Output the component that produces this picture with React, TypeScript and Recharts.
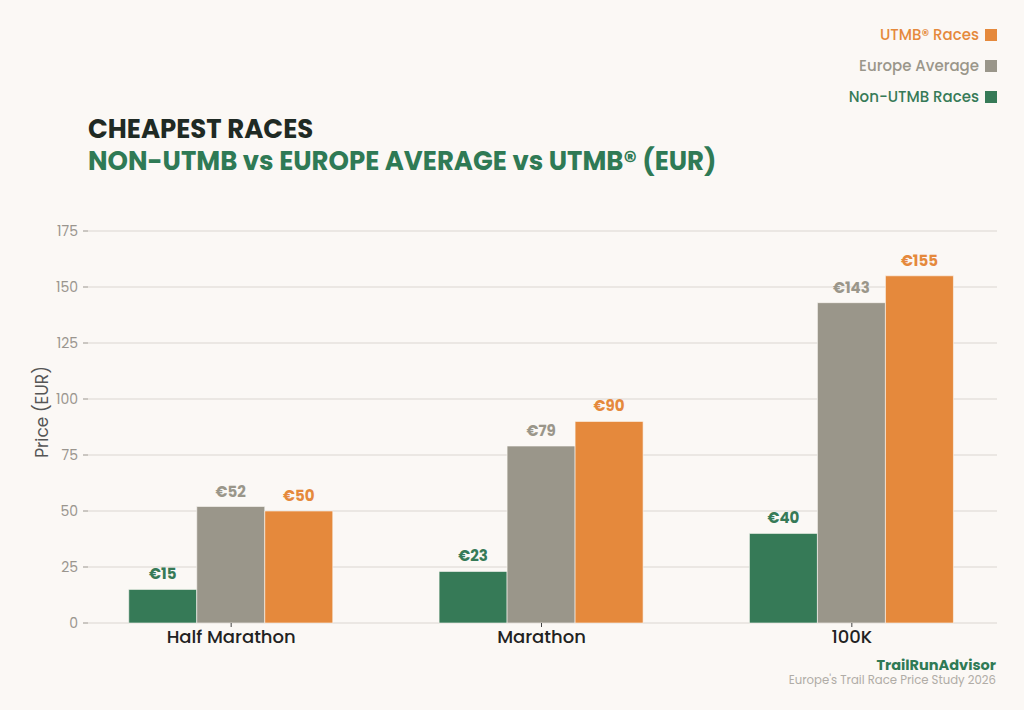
import React from 'react'
import { BarChart, Bar, XAxis, YAxis, CartesianGrid, LabelList } from 'recharts'

const categories = ['Half Marathon', 'Marathon', '100K']
const nonUtmb = [15, 23, 40]
const europeAvg = [52, 79, 143]
const utmb = [50, 90, 155]
const yTicks = [0, 25, 50, 75, 100, 125, 150, 175]

const GREEN = '#367a57'
const GREY = '#9a968a'
const ORANGE = '#e5893c'
const BG = '#fbf8f5'
const FONT = "Poppins, 'Open Sans', sans-serif"

const data = categories.map((name, i) => ({
  name,
  nonUtmb: nonUtmb[i],
  europe: europeAvg[i],
  utmb: utmb[i],
}))

const legendItems = [
  { label: 'UTMB® Races', color: ORANGE },
  { label: 'Europe Average', color: GREY },
  { label: 'Non-UTMB Races', color: GREEN },
]

// y tick: label right-aligned plus a short dash just left of the grid
const YTick = ({ y, payload }: any) => (
  <g>
    <text x={78} y={y} dy={5} textAnchor="end" fontSize={14} fill="#9a958e" fontFamily={FONT}>
      {payload.value}
    </text>
    <line x1={83} x2={88} y1={y} y2={y} stroke="#9a958e" strokeWidth={1} />
  </g>
)

const euro = (v: any) => `€${v}`

export default function App() {
  return (
    <div style={{ position: 'fixed', left: 0, top: 0, width: 1024, height: 710, background: BG, fontFamily: FONT, overflow: 'hidden' }}>
      {/* legend */}
      <div style={{ position: 'absolute', right: 27, top: 19, textAlign: 'right' }}>
        {legendItems.map(it => (
          <div key={it.label} style={{ display: 'flex', justifyContent: 'flex-end', alignItems: 'center', height: 31, fontSize: 15, fontWeight: 500, color: it.color }}>
            <span>{it.label}</span>
            <span style={{ display: 'inline-block', width: 12, height: 12, background: it.color, marginLeft: 6 }} />
          </div>
        ))}
      </div>

      {/* titles */}
      <div style={{ position: 'absolute', left: 88, top: 114, fontSize: 26, fontWeight: 700, color: '#1f2a24', lineHeight: '30px' }}>
        CHEAPEST RACES
      </div>
      <div style={{ position: 'absolute', left: 88, top: 146, fontSize: 26, fontWeight: 700, color: '#2f7a55', lineHeight: '30px' }}>
        NON-UTMB vs EUROPE AVERAGE vs UTMB® (EUR)
      </div>

      {/* y axis title */}
      <div style={{ position: 'absolute', left: 42, top: 412, transform: 'translate(-50%, -50%) rotate(-90deg)', fontSize: 17, color: '#555', whiteSpace: 'nowrap' }}>
        Price (EUR)
      </div>

      <div style={{ position: 'absolute', left: 0, top: 0 }}>
        <BarChart
          width={1024}
          height={710}
          data={data}
          margin={{ top: 231, right: 17, bottom: 0, left: 0 }}
          barCategoryGap="17%"
          barGap={0}
        >
          <CartesianGrid horizontal vertical={false} stroke="#e6e2dd" strokeWidth={1.5} x={88} width={909} />
          <XAxis
            dataKey="name"
            axisLine={false}
            tickLine={{ stroke: '#444' }}
            tickSize={4}
            height={87}
            tick={{ fontSize: 18, fontWeight: 500, fill: '#222', fontFamily: FONT }}
            tickMargin={3}
          />
          <YAxis
            width={76}
            domain={[0, 175]}
            ticks={yTicks}
            axisLine={false}
            tickLine={false}
            tick={<YTick />}
          />
          <Bar dataKey="nonUtmb" fill={GREEN} stroke={BG} strokeWidth={0.6} isAnimationActive={false}>
            <LabelList dataKey="nonUtmb" position="top" offset={10} formatter={euro} fill={GREEN} fontSize={15} fontWeight={700} fontFamily={FONT} />
          </Bar>
          <Bar dataKey="europe" fill={GREY} stroke={BG} strokeWidth={0.6} isAnimationActive={false}>
            <LabelList dataKey="europe" position="top" offset={10} formatter={euro} fill={GREY} fontSize={15} fontWeight={700} fontFamily={FONT} />
          </Bar>
          <Bar dataKey="utmb" fill={ORANGE} stroke={BG} strokeWidth={0.6} isAnimationActive={false}>
            <LabelList dataKey="utmb" position="top" offset={10} formatter={euro} fill={ORANGE} fontSize={15} fontWeight={700} fontFamily={FONT} />
          </Bar>
        </BarChart>
      </div>

      {/* footer */}
      <div style={{ position: 'absolute', right: 28, top: 658, fontSize: 14.5, fontWeight: 700, color: '#2f7a55', lineHeight: '15px', textAlign: 'right' }}>
        TrailRunAdvisor
      </div>
      <div style={{ position: 'absolute', right: 28, top: 674, fontSize: 11.7, color: '#b0aca6', lineHeight: '13px', textAlign: 'right', whiteSpace: 'nowrap' }}>
        Europe's Trail Race Price Study 2026
      </div>
    </div>
  )
}
